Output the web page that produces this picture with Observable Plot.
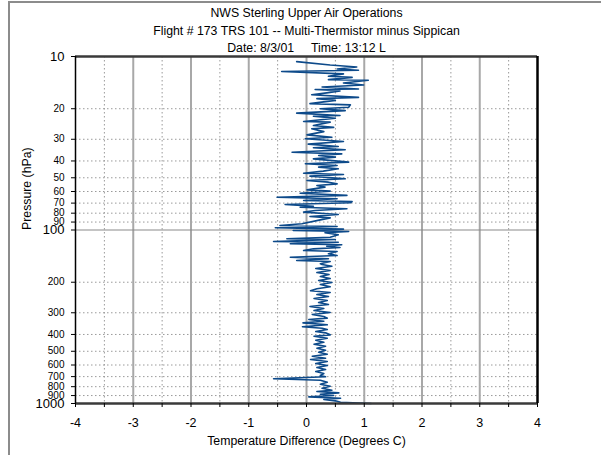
<!DOCTYPE html>
<html>
<head>
<meta charset="utf-8">
<script src="https://cdn.jsdelivr.net/npm/d3@7"></script>
<script src="https://cdn.jsdelivr.net/npm/@observablehq/plot@0.6"></script>
<style>
  html, body { margin: 0; padding: 0; background: #fff; }
  #wrap { position: relative; width: 601px; height: 455px; overflow: hidden; }
  #border { position: absolute; left: 8px; top: 1px; width: 640px; height: 500px;
            border-left: 2px solid #8c8c8c; border-top: 2px solid #8c8c8c; }
  #chart { position: absolute; left: 0; top: 0; }
</style>
</head>
<body>
<div id="wrap"><div id="border"></div><div id="chart"></div></div>
<script>
const titleLines = [
  "NWS Sterling Upper Air Operations",
  "Flight # 173 TRS 101 -- Multi-Thermistor minus Sippican",
  "Date: 8/3/01     Time: 13:12 L"
];
const xLabel = "Temperature Difference (Degrees C)";
const yLabel = "Pressure (hPa)";

const xDomain = [-4, 4];
const yDomain = [10, 1000];
const xTicks = [-4, -3, -2, -1, 0, 1, 2, 3, 4];
const xMinorTicks = [-3.5, -2.5, -1.5, -0.5, 0.5, 1.5, 2.5, 3.5];
const yMajorTicks = [10, 100, 1000];
const yMinorTicks = [20, 30, 40, 50, 60, 70, 80, 90, 200, 300, 400, 500, 600, 700, 800, 900];

// Pressure (hPa) and temperature difference (deg C), read top to bottom
const pressure = [
  10.7, 11.2, 11.5, 11.8, 12.0, 12.2, 12.6, 13.0, 13.2, 13.6, 13.7, 14.2, 14.6, 15.0, 15.4, 15.5,
  15.8, 16.2, 16.6, 17.2, 17.5, 17.9, 18.7, 19.0, 19.6, 20.0, 20.5, 21.2, 21.9, 22.1, 22.7, 23.7,
  23.9, 25.0, 25.6, 26.1, 27.1, 28.3, 29.2, 29.8, 30.9, 32.0,
  33.0, 33.6, 34.5, 35.6, 36.4, 37.2, 38.0, 38.9, 40.6, 41.5, 42.5, 43.4, 44.4, 45.8, 47.1, 47.9,
  48.9, 50.7, 51.8, 53.0, 54.2, 55.4, 56.6, 58.7, 59.7, 61.4, 63.2, 64.7, 66.1, 67.6, 68.5, 69.7,
  71.3, 72.9, 73.9, 75.5, 77.2, 78.9, 81.4, 83.6, 85.1, 87.4, 92.1, 94.2, 95.5, 97.1, 98.9, 100.7,
  102.0, 103.8, 106.6, 110.0, 112.4, 113.4, 116.5, 117.6, 120.1, 121.7, 124.0, 126.2, 128.4, 131.3,
  133.0, 137.1, 140.3, 143.5, 146.6, 149.9, 151.9, 156.6,
  158.1, 161.7, 166.7, 171.2, 175.8, 180.6, 185.4, 190.4, 195.4, 200.7, 206.1, 212.6, 218.3, 224.1,
  229.1, 235.4, 241.7, 248.2, 254.9, 261.8, 268.8, 276.0, 283.4, 291.1, 298.9, 306.9, 315.2,
  322.2, 328.0, 335.4, 342.8, 352.0, 361.4, 368.2, 374.6, 384.6, 391.5, 402.0, 409.3, 420.4, 431.6,
  443.3, 455.0, 467.4, 479.9, 492.9, 506.1, 519.7, 533.7, 548.0, 557.8, 572.7, 588.1, 603.9, 620.1,
  636.8, 653.9, 671.5, 689.5, 701.5, 720.4, 734.0, 753.7, 774.0, 794.8, 816.1, 838.1, 853.1, 868.2,
  883.7, 899.5, 915.5, 931.9, 948.5, 965.2, 982.7, 1000
];
const tempDiff = [
  -0.17, 0.41, 0.87, 0.53, 0.90, -0.43, 0.64, 0.38, 0.79, 0.38, 1.07, 0.64, 0.99, 0.27, 0.90, 0.15,
  0.58, 0.35, 0.09, 0.90, 0.18, 0.50, 0.06, 0.76, 0.73, 0.24, 0.67, -0.17, 0.58, 0.12, 0.50, -0.05,
  0.41, 0.12, 0.47, 0.09, 0.30, 0.01, 0.44, -0.02, 0.64, 0.03,
  0.55, 0.12, 0.67, -0.25, 0.61, 0.21, 0.50, 0.12, 0.73, -0.02, 0.53, 0.21, 0.55, 0.29, -0.05, 0.64,
  0.06, 0.67, 0.01, 0.38, 0.53, 0.18, 0.32, 0.01, 0.41, -0.11, 0.70, -0.51, 0.53, -0.05, 0.79, 0.76,
  -0.37, 0.12, -0.11, 0.70, 0.15, -0.05, 0.55, 0.06, 0.41, 0.24, -0.08, -0.46, 0.53, -0.54, 0.64, -0.23,
  0.73, 0.32, 0.55, 0.41, -0.34, 0.50, -0.57, 0.55, -0.28, 0.61, 0.35, 0.58, 0.12, -0.05,
  0.53, 0.38, 0.53, -0.28, 0.38, -0.17, 0.41, 0.24,
  0.27, 0.44, 0.16, 0.41, 0.18, 0.39, 0.24, 0.41, 0.21, 0.44, 0.24, 0.41, 0.18, 0.07,
  0.41, 0.18, 0.38, 0.13, 0.36, 0.21, 0.38, 0.06, 0.30, 0.13, 0.41, 0.10, 0.30,
  0.36, 0.04, 0.30, -0.06, 0.36, -0.07, 0.27, 0.36, 0.16, 0.33, 0.41, 0.13, 0.36, 0.16,
  0.30, 0.13, 0.33, 0.18, 0.33, 0.21, 0.36, 0.10, 0.33, 0.07, 0.36, 0.16, 0.36, 0.18,
  0.33, 0.16, 0.30, 0.24, 0.33, -0.57, 0.24, 0.36, 0.24, 0.41, 0.27, 0.44, 0.18, 0.56,
  0.24, 0.47, 0.04, 0.59, 0.30, 0.50, 0.59, 1.12
];

const profile = pressure.map((p, i) => ({p, d: tempDiff[i]}));
const fmt = d => String(d);
const font = "'Liberation Sans', Arial, sans-serif";

const chart = Plot.plot({
  width: 601,
  height: 455,
  marginLeft: 75,
  marginRight: 64,
  marginTop: 56,
  marginBottom: 52,
  style: {fontFamily: font, background: "transparent", color: "#000"},
  x: {domain: xDomain, axis: null},
  y: {type: "log", domain: yDomain, reverse: true, axis: null},
  marks: [
    // grid
    Plot.ruleX(xMinorTicks, {stroke: "#9a9a9a", strokeWidth: 1, strokeDasharray: "1.5,2.5"}),
    Plot.ruleY(yMinorTicks, {stroke: "#9a9a9a", strokeWidth: 1, strokeDasharray: "1.5,2.5"}),
    Plot.ruleX([-3, -2, -1, 0, 1, 2, 3], {stroke: "#a8a8a8", strokeWidth: 2}),
    Plot.ruleY([100], {stroke: "#8a8a8a", strokeWidth: 1.2}),
    // data
    Plot.line(profile, {x: "d", y: "p", stroke: "#0d4a8a", strokeWidth: 1.6}),
    // frame
    Plot.ruleY([yDomain[0]], {stroke: "#3a3a3a", strokeWidth: 2.5}),
    Plot.ruleY([yDomain[1]], {stroke: "#3a3a3a", strokeWidth: 2.5}),
    Plot.ruleX([xDomain[0]], {stroke: "#000", strokeWidth: 1.5}),
    Plot.ruleX([xDomain[1]], {stroke: "#000", strokeWidth: 2.5}),
    // x axis
    Plot.axisX(xTicks, {tickSize: 4, tickPadding: 11, tickFormat: fmt, fontSize: 12.5, label: null}),
    Plot.axisX(xMinorTicks, {tickSize: 4, tickFormat: () => "", label: null}),
    // y axis ticks and labels
    Plot.ruleY(yMajorTicks.concat(yMinorTicks), {x1: xDomain[0], x2: xDomain[0], insetLeft: -4, stroke: "#000", strokeWidth: 1}),
    Plot.text(yMinorTicks, {x: xDomain[0], y: d => d, text: fmt, dx: -11, textAnchor: "end", fontSize: 10}),
    Plot.text(yMajorTicks, {x: xDomain[0], y: d => d, text: fmt, dx: -11, textAnchor: "end", fontSize: 13}),
    // titles
    Plot.text([titleLines[0]], {frameAnchor: "top", lineAnchor: "middle", dy: -43, fontSize: 12.3, text: d => d}),
    Plot.text([titleLines[1]], {frameAnchor: "top", lineAnchor: "middle", dy: -25.3, fontSize: 12.3, text: d => d}),
    Plot.text([titleLines[2]], {frameAnchor: "top", lineAnchor: "middle", dy: -8, fontSize: 12.3, text: d => d}),
    Plot.text([xLabel], {frameAnchor: "bottom", lineAnchor: "middle", dy: 38, fontSize: 12.3, text: d => d}),
    Plot.text([yLabel], {frameAnchor: "left", lineAnchor: "middle", dx: -48, rotate: -90, fontSize: 12.3, text: d => d})
  ]
});
document.getElementById("chart").appendChild(chart);
</script>
</body>
</html>
